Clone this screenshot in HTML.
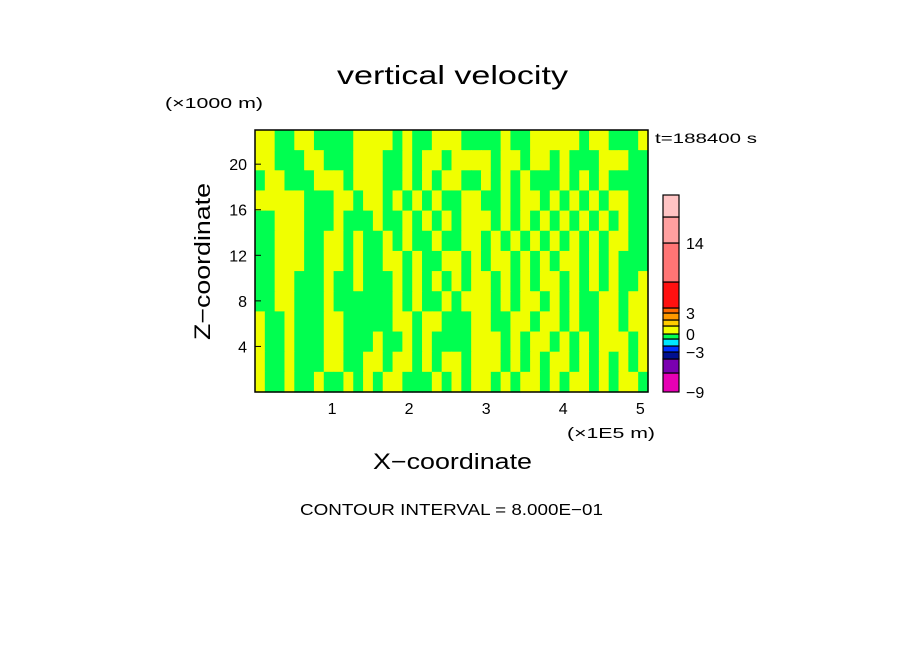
<!DOCTYPE html>
<html><head><meta charset="utf-8"><style>
body{margin:0;background:#fff;}
svg{display:block;font-family:"Liberation Sans",sans-serif;}
</style></head><body>
<svg id="chart" width="904" height="654" viewBox="0 0 904 654">
<rect width="904" height="654" fill="#fff"/>
<text x="337" y="84" font-size="26" textLength="231" lengthAdjust="spacingAndGlyphs">vertical velocity</text>
<text x="165" y="108" font-size="15" textLength="98" lengthAdjust="spacingAndGlyphs">(×1000 m)</text>
<text x="655" y="143" font-size="14" textLength="102" lengthAdjust="spacingAndGlyphs">t=188400 s</text>
<g id="field"></g>
<rect x="255" y="130" width="393" height="262" fill="none" stroke="#000" stroke-width="1.5"/>
<g id="yticks"></g>
<g id="xticks"></g>
<text x="567" y="438" font-size="15" textLength="88" lengthAdjust="spacingAndGlyphs">(×1E5 m)</text>
<text transform="translate(210,340) rotate(-90)" font-size="22" textLength="157" lengthAdjust="spacingAndGlyphs">Z−coordinate</text>
<text x="373" y="469" font-size="22" textLength="159" lengthAdjust="spacingAndGlyphs">X−coordinate</text>
<g id="cbar"></g>
<text x="300" y="515" font-size="16" textLength="303" lengthAdjust="spacingAndGlyphs">CONTOUR INTERVAL = 8.000E−01</text>
</svg>
<script>
const fieldRows = [
"YYGGYYGGGGYYYYGYGGYYYGGGGYGGYYYYYGYYGGGY",
"YYGGGYYGGGYYYGGYGYYGYYYYGYYGYYGYGGGYYYGG",
"GYYGGGYYYGYYYGGYGYGYYGGYGYGYGGGYGYGYGGGG",
"YYYYYGGGYYGYYGYGYGYGGYYGGYGYYGYGYGYGYYGG",
"GGYYYGGGYGGGYGGYGYGYGYYYGYGYGYGYGYGYGYGG",
"GGYYYGGYYGYGGYGYGGYGGYYGYGYGYGYGYGYGYYGG",
"GGYYYGGYYGYGGYYGYGGYYGYGYYGYGYGYYGYGYGGG",
"GGYYGGGYGGYGGGYGYGYGYGYYGYGYGYYGYGYGYGGY",
"GGYYGGGYGGGGGGYGYGGYGYYYGYGYYGYGYGGYYGYY",
"YGGYGGGYYGGGGGYYGYYGGGYYGGYYGYYGYGGYYGYY",
"YGGYGGGYYGGGYGGYGYGGGGYYYGYGYYGYGYGYYYGY",
"YGGYGGGYYGGYYGYYGYGYYGYYYGYGYGYYGYGYGYGY",
"YGGYGGYGGYGYGYYGGGYGYGYYGYGYYGYGYYGYGYYG"];
const fieldColors = {Y:"#f0ff00", G:"#00ff50"};
const yTickVals = [4,8,12,16,20];
const xTickVals = [1,2,3,4,5];
const cbarLevels = [-9,-7,-5,-3,-2,-1,0,1,2,3,6,14,18,20];
const cbarColors = ["#e600b4","#7a00b0","#001090","#0030ff","#00e6ff","#00ff50","#f0ff00","#ffcc00","#ff9900","#ff6a00","#ff1010","#ff7575","#ffa0a0","#ffc4c4"];
const cbarLabels = [-9,-3,0,3,14];

const NS="http://www.w3.org/2000/svg";
const X0=255,X1=648,Y0=392,Y1=130,XMAX=5.1,ZMAX=23;
const sx=v=>X0+(X1-X0)*v/XMAX, sz=v=>Y0-(Y0-Y1)*v/ZMAX;
function mk(tag,attrs,parent){const e=document.createElementNS(NS,tag);for(const k in attrs)e.setAttribute(k,attrs[k]);parent.appendChild(e);return e;}

const field=document.getElementById('field');
const nr=fieldRows.length,nc=fieldRows[0].length;
const cw=(X1-X0)/nc,rh=(Y0-Y1)/nr;
fieldRows.forEach((row,r)=>{
  for(let c=0;c<nc;c++){
    const e=mk('rect',{x:X0+c*cw,y:Y1+r*rh,width:cw+0.6,height:rh+0.6,fill:fieldColors[row[c]]},field);
    
    
  }
});

const yt=document.getElementById('yticks');
yTickVals.forEach(v=>{
  const t=mk('text',{x:247,y:sz(v)+6,'font-size':16,'text-anchor':'end'},yt);t.textContent=v;
  
  
  const l=mk('line',{x1:X0,x2:X0+6,y1:sz(v),y2:sz(v),stroke:'#000'},yt);
  
  
});
const xt=document.getElementById('xticks');
xTickVals.forEach(v=>{
  const t=mk('text',{x:sx(v),y:414,'font-size':16,'text-anchor':'middle'},xt);t.textContent=v;
  
  
});

const cb=document.getElementById('cbar');
const CB0=392,CBX=663,CBW=16;
const segTops=[373,359,352,346,339,334,326,320,313,308,282,243,217,195];
cbarColors.forEach((col,i)=>{
  const bot=i===0?CB0:segTops[i-1],top=segTops[i];
  const e=mk('rect',{x:CBX,y:top,width:CBW,height:bot-top,fill:col,stroke:'#000','stroke-width':1.2},cb);
  
  
});
const labY={"-9":392,"-3":352,"0":334,"3":313,"14":243};
cbarLabels.forEach(v=>{
  const t=mk('text',{x:686,y:labY[v]+6,'font-size':16},cb);t.textContent=v<0?'−'+(-v):v;
  
  
});
</script>
</body></html>
